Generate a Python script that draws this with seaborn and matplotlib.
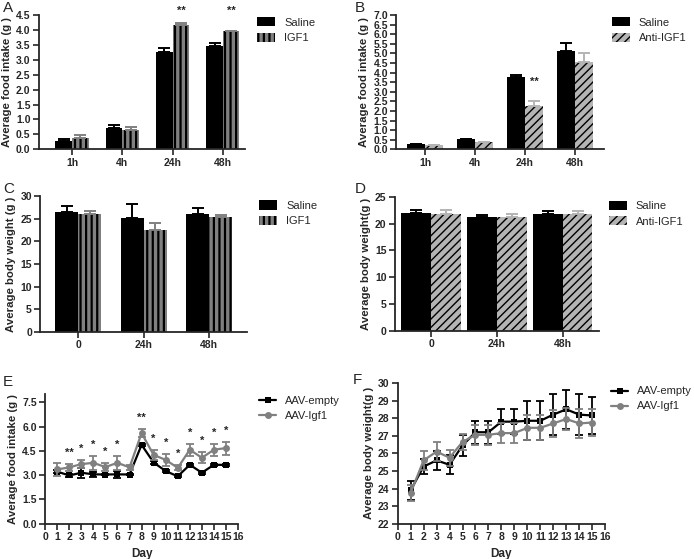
import numpy as np
import pandas as pd
import matplotlib
matplotlib.use('Agg')
import matplotlib.pyplot as plt
import matplotlib.transforms as mtransforms
import seaborn as sns

# A: food intake after IGF1
a_times = ['1h', '4h', '24h', '48h']
a_saline = [0.27, 0.70, 3.25, 3.48]
a_saline_err = [0.06, 0.10, 0.13, 0.08]
a_igf1 = [0.38, 0.63, 4.18, 3.95]
a_igf1_err = [0.10, 0.13, 0.07, 0.03]
a_stars = ['', '', '**', '**']

# B: food intake after anti-IGF1
b_times = ['1h', '4h', '24h', '48h']
b_saline = [0.27, 0.52, 3.77, 5.15]
b_saline_err = [0.03, 0.04, 0.12, 0.38]
b_anti = [0.20, 0.38, 2.25, 4.55]
b_anti_err = [0.03, 0.02, 0.28, 0.45]

# C: body weight after IGF1
c_times = ['0', '24h', '48h']
c_saline = [26.6, 25.1, 26.1]
c_saline_err = [1.3, 3.1, 1.3]
c_igf1 = [26.0, 22.6, 25.3]
c_igf1_err = [0.8, 1.5, 0.6]

# D: body weight after anti-IGF1
d_times = ['0', '24h', '48h']
d_saline = [21.9, 21.2, 21.7]
d_saline_err = [0.6, 0.4, 0.6]
d_anti = [21.8, 21.3, 21.8]
d_anti_err = [0.7, 0.5, 0.6]

# E/F: AAV time courses
days = list(range(1, 16))
e_empty = [3.22, 2.98, 3.15, 3.05, 3.04, 3.05, 3.04, 4.87, 3.78, 3.25, 2.93, 3.64, 3.15, 3.64, 3.63]
e_empty_err = [0.10, 0.10, 0.30, 0.15, 0.05, 0.20, 0.05, 0.05, 0.08, 0.08, 0.05, 0.05, 0.05, 0.05, 0.05]
e_igf1 = [3.35, 3.48, 3.68, 3.76, 3.50, 3.76, 3.48, 5.59, 4.25, 3.94, 3.45, 4.57, 4.07, 4.57, 4.67]
e_igf1_err = [0.38, 0.20, 0.25, 0.42, 0.22, 0.42, 0.15, 0.25, 0.32, 0.35, 0.15, 0.38, 0.35, 0.38, 0.40]
e_stars = ['', '**', '*', '*', '*', '*', '', '**', '*', '*', '*', '*', '*', '*', '*']

f_empty = [23.9, 25.25, 25.6, 25.35, 26.45, 27.2, 27.2, 27.8, 27.8, 27.85, 27.85, 28.2, 28.5, 28.2, 28.15]
f_empty_err = [0.55, 0.45, 0.55, 0.55, 0.6, 0.65, 0.65, 0.7, 0.7, 1.1, 1.1, 1.15, 1.1, 1.15, 1.05]
f_igf1 = [23.75, 25.6, 26.1, 25.75, 26.65, 27.05, 27.05, 27.15, 27.15, 27.45, 27.45, 27.7, 27.95, 27.7, 27.75]
f_igf1_err = [0.45, 0.55, 0.55, 0.45, 0.45, 0.55, 0.55, 0.55, 0.55, 0.7, 0.7, 0.75, 0.6, 0.8, 0.75]

sns.set_style('ticks')
plt.rcParams['font.family'] = ['Liberation Sans', 'DejaVu Sans']
plt.rcParams['font.weight'] = 'bold'
plt.rcParams['axes.labelweight'] = 'bold'

fig = plt.figure(figsize=(6.94, 5.59), dpi=100)
axA = fig.add_axes([0.056, 0.733, 0.297, 0.240])
axB = fig.add_axes([0.571, 0.733, 0.299, 0.240])
axC = fig.add_axes([0.058, 0.406, 0.298, 0.243])
axD = fig.add_axes([0.569, 0.408, 0.294, 0.240])
axE = fig.add_axes([0.065, 0.063, 0.278, 0.232])
axF = fig.add_axes([0.573, 0.063, 0.299, 0.252])

GRAY = '#808080'
LIGHT = '#b4b4b4'
LEG = {'weight': 'normal', 'size': 8}


def bar_panel(ax, cats, s_vals, s_err, t_vals, t_err, t_label, t_color,
              t_hatch, hatch_lw, width, t_ecolor, legx, legy):
    df = pd.DataFrame({'time': cats * 2,
                       'value': s_vals + t_vals,
                       'group': ['Saline'] * len(cats) + [t_label] * len(cats)})
    plt.rcParams['hatch.linewidth'] = hatch_lw
    sns.barplot(data=df, x='time', y='value', hue='group',
                palette=['black', t_color], width=width, errorbar=None,
                saturation=1, legend=False, ax=ax)
    s_bars, t_bars = ax.containers[0], ax.containers[1]
    for p in s_bars:
        p.set_linewidth(0)
    for p in t_bars:
        p.set_hatch(t_hatch)
        p.set_edgecolor('black')
        p.set_linewidth(0)
    for bars, err, ec in [(s_bars, s_err, 'black'), (t_bars, t_err, t_ecolor)]:
        xs = [p.get_x() + p.get_width() / 2 for p in bars]
        ys = [p.get_height() for p in bars]
        ax.errorbar(xs, ys, yerr=[np.zeros(len(err)), err], fmt='none',
                    ecolor=ec, elinewidth=1.4, capsize=4, capthick=1.4, zorder=1)
    ax.legend([s_bars, t_bars], ['Saline', t_label], loc='upper left',
              bbox_to_anchor=(legx, legy), frameon=False, prop=LEG,
              handlelength=1.6, handleheight=0.9, borderaxespad=0,
              borderpad=0, labelspacing=0.45, handletextpad=0.8)
    ax.set_xlabel('')
    return s_bars, t_bars


# A
sA, tA = bar_panel(axA, a_times, a_saline, a_saline_err, a_igf1, a_igf1_err,
                   'IGF1', GRAY, '|||', 1.6, 0.66, GRAY, 1.06, 0.985)
axA.set_ylim(0, 4.5)
axA.set_yticks(np.arange(0, 4.51, 0.5))
axA.set_xlim(-0.66, 3.44)
axA.set_ylabel('Average food intake (g )')
trA = mtransforms.blended_transform_factory(axA.transData, axA.transAxes)
for p, s in zip(tA, a_stars):
    if s:
        axA.text(p.get_x() + p.get_width() / 2, 1.03, s, transform=trA,
                 ha='center', va='center', fontsize=8)

# B
sB, tB = bar_panel(axB, b_times, b_saline, b_saline_err, b_anti, b_anti_err,
                   'Anti-IGF1', LIGHT, '////', 1.0, 0.72, LIGHT, 1.04, 0.985)
axB.set_ylim(0, 7)
axB.set_yticks(np.arange(0, 7.01, 0.5))
axB.set_xlim(-0.58, 3.58)
axB.set_ylabel('Average food intake (g )')
pB = tB[2]
axB.text(pB.get_x() + pB.get_width() / 2, sB[2].get_height(), '**',
         ha='center', va='top', fontsize=8)

# C
bar_panel(axC, c_times, c_saline, c_saline_err, c_igf1, c_igf1_err,
          'IGF1', GRAY, '|||', 1.6, 0.70, GRAY, 1.06, 0.97)
axC.set_ylim(0, 30)
axC.set_yticks(range(0, 31, 5))
axC.set_xlim(-0.58, 2.58)
axC.set_ylabel('Average body weight (g )')

# D
bar_panel(axD, d_times, d_saline, d_saline_err, d_anti, d_anti_err,
          'Anti-IGF1', LIGHT, '////', 1.0, 0.90, LIGHT, 1.05, 0.97)
axD.set_ylim(0, 25)
axD.set_yticks(range(0, 26, 5))
axD.set_xlim(-0.55, 2.55)
axD.set_ylabel('Average body weight(g )')


def line_panel(ax, y1, e1, y2, e2, legx, legy):
    ax.errorbar(days, y1, yerr=e1, fmt='none', ecolor='black', elinewidth=1.3,
                capsize=3, capthick=1.3, zorder=2)
    sns.lineplot(x=days, y=y1, color='black', marker='s', markersize=5,
                 markeredgewidth=0, linewidth=1.6, label='AAV-empty', ax=ax, zorder=3)
    ax.errorbar(days, y2, yerr=e2, fmt='none', ecolor=GRAY, elinewidth=1.3,
                capsize=3, capthick=1.3, zorder=4)
    sns.lineplot(x=days, y=y2, color=GRAY, marker='o', markersize=5,
                 markeredgewidth=0, linewidth=1.6, label='AAV-Igf1', ax=ax, zorder=5)
    ax.set_xlim(0, 16)
    ax.set_xticks(range(0, 17))
    ax.set_xlabel('Day')
    ax.legend(loc='upper left', bbox_to_anchor=(legx, legy), frameon=False,
              prop=LEG, handlelength=1.5, borderaxespad=0, borderpad=0,
              labelspacing=0.45, handletextpad=0.8)


# E
line_panel(axE, e_empty, e_empty_err, e_igf1, e_igf1_err, 1.11, 0.985)
axE.set_ylim(0, 8)
axE.set_yticks(np.arange(0, 7.51, 1.5))
axE.yaxis.set_major_formatter(matplotlib.ticker.FormatStrFormatter('%.1f'))
axE.set_ylabel('Average food intake (g )')
for d, m, e, s in zip(days, e_igf1, e_igf1_err, e_stars):
    if s:
        axE.text(d, m + e + 0.38, s, ha='center', va='bottom', fontsize=8)

# F
line_panel(axF, f_empty, f_empty_err, f_igf1, f_igf1_err, 1.03, 0.975)
axF.set_ylim(22, 30)
axF.set_yticks(range(22, 31))
axF.set_ylabel('Average body weight(g )')

for ax in [axA, axB, axC, axD]:
    ax.yaxis.set_major_formatter(
        matplotlib.ticker.FormatStrFormatter('%.1f' if ax in (axA, axB) else '%d'))

for ax in [axA, axB, axC, axD, axE, axF]:
    sns.despine(ax=ax)
    ax.spines['left'].set_linewidth(1.3)
    ax.spines['bottom'].set_linewidth(1.3)
    ax.tick_params(direction='out', length=4, width=1.2, labelsize=7.5, pad=2)
    ax.yaxis.label.set_size(8.2)
    ax.xaxis.label.set_size(8.5)
    ax.yaxis.labelpad = 3

# panel letters in the figure's top-left corners of each cell
letter_pos = {'A': (0.004, 0.998), 'B': (0.511, 0.998),
              'C': (0.004, 0.674), 'D': (0.511, 0.674),
              'E': (0.004, 0.330), 'F': (0.508, 0.332)}
for letter, (lx, ly) in letter_pos.items():
    fig.text(lx, ly, letter, fontsize=11, fontweight='normal', va='top')

fig.savefig('out.png', dpi=100)
